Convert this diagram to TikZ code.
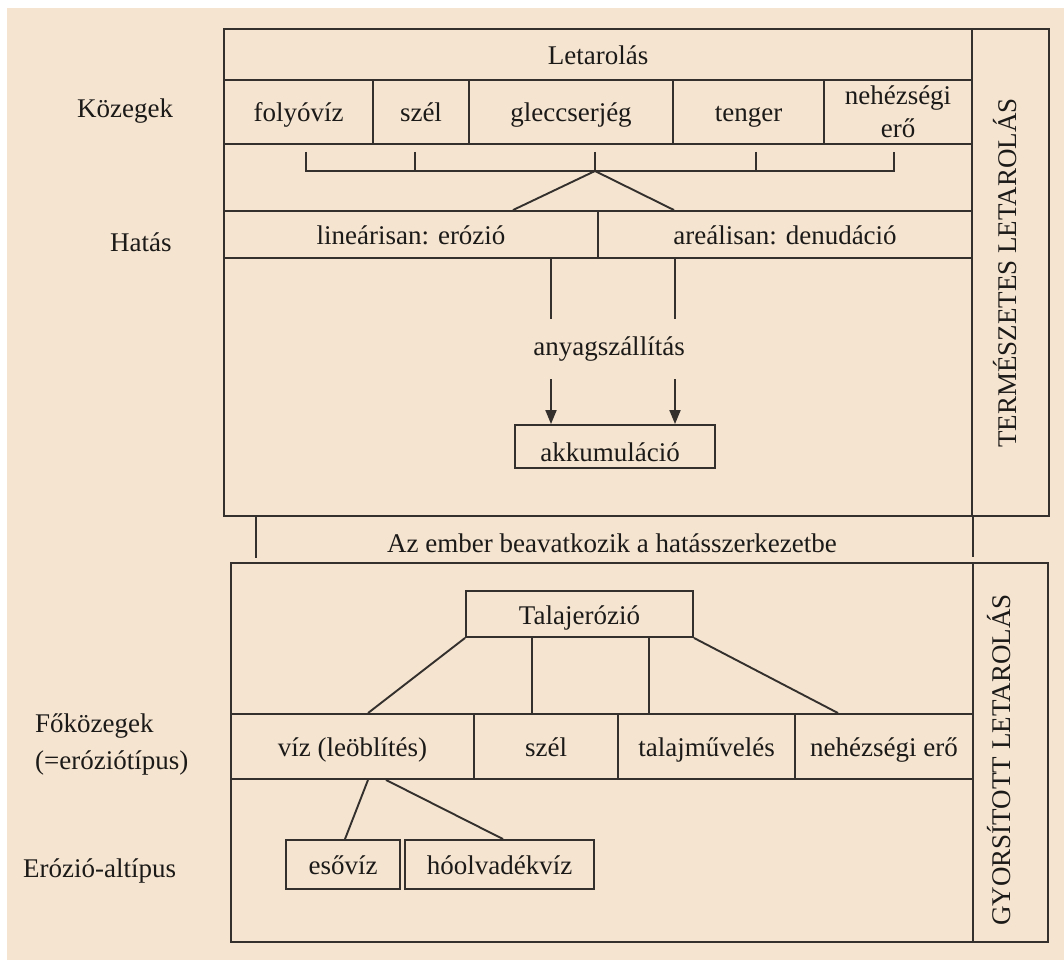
\documentclass[tikz,border=0pt]{standalone}
\usepackage{fontspec}
\setmainfont{Liberation Serif}
\usetikzlibrary{arrows.meta}
\definecolor{paper}{RGB}{245,228,208}
\definecolor{ink}{RGB}{52,48,45}
\definecolor{txt}{RGB}{28,26,24}
\begin{document}
\begin{tikzpicture}[x=1pt,y=-1pt,
  every node/.style={font=\rmfamily\fontsize{27}{33}\selectfont, text=txt, inner sep=0pt,
                     text height=25pt, text depth=5pt},
  cell/.style={draw=ink, line width=1.9pt, rectangle},
  wire/.style={draw=ink, line width=1.9pt},
  arrowed/.style={wire, -{Triangle[width=11pt,length=14pt]}},
  sidetext/.style={rotate=90},
  rowlabel/.style={anchor=west, align=left}]

% page and paper
\useasboundingbox (0,0) rectangle (1064,960);
\fill[white] (0,0) rectangle (1064,960);
\fill[paper] (7,8) rectangle (1064,960);

% ---------- natural denudation block ----------
\node[cell, minimum width=748, minimum height=487] (natbox) at (598,272.5) {};
\node[cell, minimum width=77, minimum height=487] (natside) at (1010.5,272.5) {};
\node[sidetext] (natlabel) at (1006.5,273) {TERMÉSZETES LETAROLÁS};

\node[cell, minimum width=748, minimum height=51] (letar) at (598,54.5) {Letarolás};

% agents row
\node[cell, minimum width=149, minimum height=64] (folyo) at (298.5,112) {folyóvíz};
\node[cell, minimum width=96,  minimum height=64] (szel)  at (421,112)   {szél};
\node[cell, minimum width=204, minimum height=64] (glecs) at (571,112)   {gleccserjég};
\node[cell, minimum width=151, minimum height=64] (tenger) at (748.5,112) {tenger};
\node[cell, minimum width=148, minimum height=64, align=center,
      text height=, text depth=] (nehez) at (898,112) {nehézségi\\erő};

% effect row
\node[cell, minimum width=374, minimum height=47] (lin)   at (411,234.5) {lineárisan: erózió};
\node[cell, minimum width=374, minimum height=47] (areal) at (785,234.5) {areálisan: denudáció};

% bracket joining the agents
\coordinate (hub) at (595,171);
\coordinate (t1) at (306,152);
\coordinate (t2) at (415,152);
\coordinate (t3) at (595,152);
\coordinate (t4) at (756,152);
\coordinate (t5) at (894,152);
\draw[wire] (t1) |- (t5 |- hub) -- (t5);
\draw[wire] (t2) -- (t2 |- hub);
\draw[wire] (t3) -- (hub);
\draw[wire] (t4) -- (t4 |- hub);
\coordinate (trL) at (513,0);
\coordinate (trR) at (674,0);
\draw[wire] (lin.north -| trL) -- (hub) -- (areal.north -| trR);

% transport and accumulation
\coordinate (aL) at (551,0);
\coordinate (aR) at (675,0);
\node[minimum height=60pt, text height=, text depth=] (trans) at (609,349) {anyagszállítás};
\node[cell, minimum width=200, minimum height=43] (akk) at (615,446.5) {};
\node[anchor=base, text height=, text depth=] (akktext) at (610,461) {akkumuláció};
\draw[wire] (lin.south -| aL) -- (trans.north -| aL);
\draw[wire] (areal.south -| aR) -- (trans.north -| aR);
\draw[arrowed] (trans.south -| aL) -- (akk.north -| aL);
\draw[arrowed] (trans.south -| aR) -- (akk.north -| aR);

% ---------- human intervention ----------
\node (human) at (612,542) {Az ember beavatkozik a hatásszerkezetbe};

% ---------- accelerated denudation block ----------
\node[cell, minimum width=742, minimum height=379] (accbox) at (602,752.5) {};
\node[cell, minimum width=75, minimum height=379] (accside) at (1010.5,752.5) {};
\node[sidetext] (acclabel) at (1000.5,760) {GYORSÍTOTT LETAROLÁS};

\coordinate (hL) at (256,0);
\draw[wire, shorten >=4pt] (natbox.south -| hL) -- (accbox.north -| hL);
\draw[wire, shorten >=5pt] (natbox.south east) -- (natbox.south east |- accbox.north);

\node[cell, minimum width=227, minimum height=46] (talaj) at (579.5,614) {Talajerózió};

% main agents row
\node[cell, minimum width=243, minimum height=65] (viz)   at (352.5,746.5) {víz (leöblítés)};
\node[cell, minimum width=144, minimum height=65] (szel2) at (546,746.5)   {szél};
\node[cell, minimum width=177, minimum height=65] (talm)  at (706.5,746.5) {talajművelés};
\node[cell, minimum width=178, minimum height=65] (nehez2) at (884,746.5)  {nehézségi erő};

\coordinate (v1) at (368,0);
\coordinate (v2) at (532,0);
\coordinate (v3) at (649,0);
\coordinate (v4) at (838,0);
\draw[wire] (talaj.south west) -- (viz.north -| v1);
\draw[wire] (talaj.south -| v2) -- (szel2.north -| v2);
\draw[wire] (talaj.south -| v3) -- (talm.north -| v3);
\draw[wire] (talaj.south east) -- (nehez2.north -| v4);

% subtypes
\node[cell, minimum width=114, minimum height=49] (eso) at (343,864.5) {esővíz};
\node[cell, minimum width=189, minimum height=49] (ho)  at (499.5,864.5) {hóolvadékvíz};
\coordinate (w1) at (368,0);
\coordinate (w2) at (386,0);
\coordinate (e1) at (345,0);
\coordinate (e2) at (503,0);
\draw[wire] (viz.south -| w1) -- (eso.north -| e1);
\draw[wire] (viz.south -| w2) -- (ho.north -| e2);

% ---------- row labels ----------
\node[rowlabel] (kozeg) at (77,108) {Közegek};
\node[rowlabel] (hatas) at (110,241) {Hatás};
\node[rowlabel, font=\rmfamily\fontsize{27}{37}\selectfont,
      text height=, text depth=] (fokoz) at (35,744) {Főközegek\\(=eróziótípus)};
\node[rowlabel] (altip) at (23,867) {Erózió-altípus};
\end{tikzpicture}
\end{document}
